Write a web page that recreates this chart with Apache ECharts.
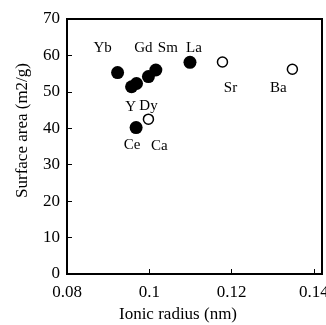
<!DOCTYPE html>
<html>
<head>
<meta charset="utf-8">
<script src="https://cdn.jsdelivr.net/npm/echarts@6/dist/echarts.min.js"></script>
<style>
  html, body { margin: 0; padding: 0; background: #fff; }
  #chart { width: 326px; height: 325px; }
</style>
</head>
<body>
<div id="chart"></div>
<script>
// filled circles (rare earths + Y)
var filledNames = ['Yb', 'Y', 'Dy', 'Gd', 'Sm', 'La', 'Ce'];
var filledRadius = [0.0923, 0.0957, 0.0969, 0.0998, 0.1016, 0.1099, 0.0968];
var filledArea = [55.3, 51.4, 52.3, 54.2, 56.0, 58.1, 40.2];

// open circles (alkaline earths)
var openNames = ['Sr', 'Ba', 'Ca'];
var openRadius = [0.1178, 0.1348, 0.0998];
var openArea = [58.2, 56.2, 42.5];

// where each label sits relative to its marker
var labelOffset = {
  Yb: [-15, -24], Y: [-1, 20], Dy: [12, 23], Gd: [-5, -28], Sm: [12, -22],
  La: [4, -14], Ce: [-4, 18], Sr: [8, 26], Ba: [-14, 19], Ca: [11, 27]
};

var serif = "'Liberation Serif', 'Times New Roman', serif";

function makeData(names, xs, ys) {
  return names.map(function (n, i) {
    return {
      name: n,
      value: [xs[i], ys[i]],
      label: { offset: labelOffset[n] }
    };
  });
}

var labelStyle = {
  show: true,
  position: 'inside',
  formatter: '{b}',
  color: '#000',
  fontFamily: serif,
  fontSize: 15
};

var myChart = echarts.init(document.getElementById('chart'));
myChart.setOption({
  animation: false,
  grid: {
    left: 67, right: 4, top: 19, bottom: 51,
    outerBoundsMode: 'none',
    containLabel: false,
    show: true, borderColor: '#000', borderWidth: 2
  },
  xAxis: {
    type: 'value',
    min: 0.08, max: 0.142, interval: 0.02,
    name: 'Ionic radius (nm)',
    nameLocation: 'middle',
    nameGap: 26,
    nameTextStyle: { fontFamily: serif, fontSize: 17, color: '#000', padding: [0, 33, 0, 0] },
    axisLine: { lineStyle: { color: '#000', width: 2 } },
    axisTick: { inside: true, length: 5, lineStyle: { color: '#000', width: 1 } },
    axisLabel: {
      fontFamily: serif, fontSize: 17, color: '#000', margin: 10,
      showMaxLabel: false,
      formatter: function (v) { return +v.toFixed(2) + ''; }
    },
    splitLine: { show: false }
  },
  yAxis: {
    type: 'value',
    min: 0, max: 70, interval: 10,
    name: 'Surface area (m2/g)',
    nameLocation: 'middle',
    nameGap: 36,
    nameTextStyle: { fontFamily: serif, fontSize: 17, color: '#000', padding: [0, 0, 0, 32] },
    axisLine: { lineStyle: { color: '#000', width: 2 } },
    axisTick: { inside: true, length: 5, lineStyle: { color: '#000', width: 1 } },
    axisLabel: { fontFamily: serif, fontSize: 17, color: '#000', margin: 7 },
    splitLine: { show: false }
  },
  series: [
    {
      type: 'scatter',
      symbol: 'circle',
      symbolSize: 13,
      itemStyle: { color: '#000', opacity: 1 },
      label: labelStyle,
      data: makeData(filledNames, filledRadius, filledArea)
    },
    {
      type: 'scatter',
      symbol: 'circle',
      symbolSize: 10,
      itemStyle: { color: '#fff', borderColor: '#000', borderWidth: 1.5, opacity: 1 },
      label: labelStyle,
      data: makeData(openNames, openRadius, openArea)
    }
  ]
});
</script>
</body>
</html>
